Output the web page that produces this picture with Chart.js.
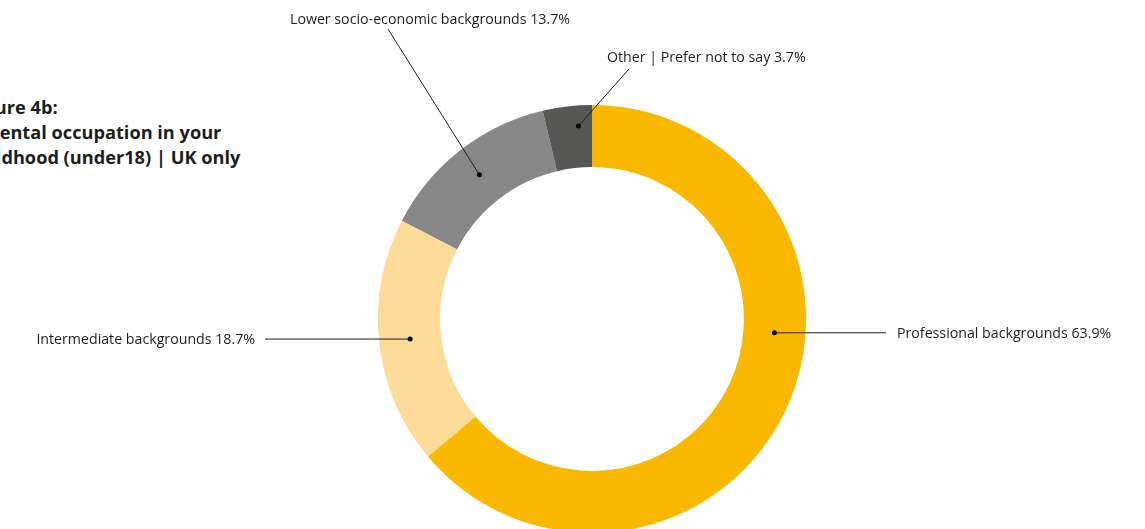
<!DOCTYPE html>
<html>
<head>
<meta charset="utf-8">
<script src="https://cdn.jsdelivr.net/npm/chart.js@4.4.1/dist/chart.umd.min.js"></script>
<style>
    html, body {
        margin: 0;
        padding: 0;
        background: #ffffff;
        overflow: hidden;
        width: 1145px;
        height: 529px;
    }
    .title {
        position: absolute;
        left: -31px;
        top: 95px;
        font-family: "Open Sans", sans-serif;
        font-weight: 700;
        font-size: 18.2px;
        line-height: 25px;
        color: #1d1d1b;
        white-space: nowrap;
    }
    .wrap {
        position: absolute;
        left: 0;
        top: 0;
        width: 1145px;
        height: 540px;
    }
</style>
</head>
<body>

<div class="title">
    Figure 4b:<br>
    Parental occupation in your<br>
    childhood (under18) | UK only
</div>

<div class="wrap">
    <canvas id="donut"></canvas>
</div>

<script>
const categories = [
    "Professional backgrounds",
    "Intermediate backgrounds",
    "Lower socio-economic backgrounds",
    "Other | Prefer not to say"
];

const shares = [63.9, 18.7, 13.7, 3.7];

const sliceColors = ["#fab900", "#fddb98", "#878787", "#575756"];

// where each callout sits: dot along the arc (0..1), dot across the ring (0..1),
// end of the leader line and the text anchor
const callouts = [
    { along: 0.41, across: 0.5, lineTo: [886, null], text: [897, null], align: "left" },
    { along: 0.5, across: 0.5, lineTo: [265, null], text: [255, null], align: "right" },
    { along: 0.5, across: 0.5, lineTo: [388, 29], text: [430, 20], align: "center" },
    { along: 0.7, across: 0.67, lineTo: [629, 69], text: [607, 58], align: "left" }
];

const calloutPlugin = {
    id: "callouts",
    afterDatasetsDraw(chart) {
        const ctx = chart.ctx;
        const arcs = chart.getDatasetMeta(0).data;

        ctx.save();
        ctx.font = "14.2px 'Open Sans', sans-serif";
        ctx.textBaseline = "middle";

        arcs.forEach((arc, i) => {
            const c = callouts[i];
            const p = arc.getProps(
                ["x", "y", "startAngle", "endAngle", "innerRadius", "outerRadius"],
                true
            );

            const a = p.startAngle + (p.endAngle - p.startAngle) * c.along;
            const r = p.innerRadius + (p.outerRadius - p.innerRadius) * c.across;

            const dx = p.x + Math.cos(a) * r;
            const dy = p.y + Math.sin(a) * r;

            const lx = c.lineTo[0];
            const ly = c.lineTo[1] === null ? dy : c.lineTo[1];

            ctx.strokeStyle = "#1d1d1b";
            ctx.lineWidth = 1;
            ctx.beginPath();
            ctx.moveTo(dx, dy);
            ctx.lineTo(lx, ly);
            ctx.stroke();

            ctx.fillStyle = "#000000";
            ctx.beginPath();
            ctx.arc(dx, dy, 2.5, 0, Math.PI * 2);
            ctx.fill();

            const tx = c.text[0];
            const ty = c.text[1] === null ? dy + 1 : c.text[1];

            ctx.fillStyle = "#1d1d1b";
            ctx.textAlign = c.align;
            ctx.fillText(
                `${categories[i]} ${shares[i].toFixed(1)}%`,
                tx,
                ty
            );
        });

        ctx.restore();
    }
};

new Chart(
    document.getElementById("donut").getContext("2d"),
{
    type: "doughnut",

    data: {
        labels: categories,
        datasets: [{
            data: shares,
            backgroundColor: sliceColors,
            borderWidth: 0
        }]
    },

    options: {
        responsive: true,
        maintainAspectRatio: false,
        animation: false,
        cutout: "71%",
        layout: {
            padding: { left: 378, right: 339, top: 105, bottom: 7 }
        },
        plugins: {
            legend: { display: false },
            tooltip: { enabled: false }
        }
    },

    plugins: [calloutPlugin]
});
</script>
</body>
</html>
